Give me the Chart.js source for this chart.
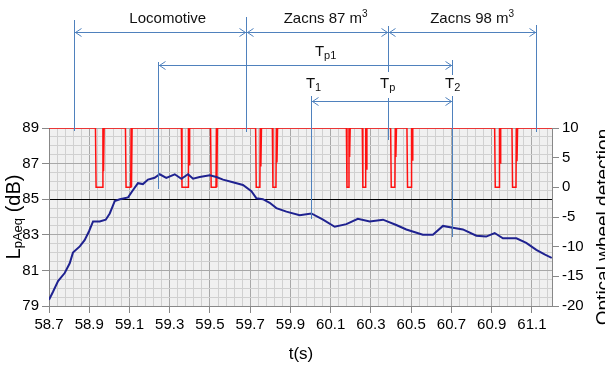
<!DOCTYPE html>
<html>
<head>
<meta charset="utf-8">
<script src="https://cdn.jsdelivr.net/npm/chart.js@4"></script>
<style>
html, body { margin: 0; padding: 0; background: #fff; }
</style>
</head>
<body>
<canvas id="chart1" width="605" height="365"></canvas>
<script>
const FONT = '"Liberation Sans Narrow", "Arial Narrow", "Liberation Sans", sans-serif';

const X_TICKS = [58.7, 58.9, 59.1, 59.3, 59.5, 59.7, 59.9, 60.1, 60.3, 60.5, 60.7, 60.9, 61.1];
const Y_TICKS = [79, 81, 83, 85, 87, 89];
const Y1_TICKS = [-20, -15, -10, -5, 0, 5, 10];

// LpAeq (dB)
const LEQ_T = [58.700, 58.720, 58.745, 58.778, 58.803, 58.819, 58.853, 58.877, 58.899, 58.919,
               58.952, 58.982, 59.002, 59.027, 59.052, 59.093, 59.117, 59.142, 59.167, 59.192,
               59.225, 59.250, 59.283, 59.325, 59.358, 59.391, 59.416, 59.449, 59.499, 59.532,
               59.565, 59.614, 59.664, 59.706, 59.731, 59.763, 59.797, 59.830, 59.880, 59.946,
               60.004, 60.062, 60.120, 60.178, 60.235, 60.294, 60.360, 60.426, 60.476, 60.558,
               60.608, 60.658, 60.707, 60.757, 60.824, 60.873, 60.915, 60.956, 61.023, 61.072,
               61.122, 61.163, 61.199];
const LEQ_DB = [79.35, 79.8, 80.4, 80.85, 81.4, 82.0, 82.35, 82.7, 83.2, 83.75,
                83.75, 83.85, 84.2, 84.9, 85.0, 85.1, 85.5, 85.9, 85.85, 86.1,
                86.2, 86.4, 86.2, 86.4, 86.15, 86.4, 86.15, 86.25, 86.35, 86.25,
                86.1, 85.95, 85.8, 85.45, 85.05, 85.0, 84.8, 84.5, 84.3, 84.1,
                84.2, 83.85, 83.45, 83.6, 83.9, 83.75, 83.85, 83.55, 83.3, 83.0,
                83.0, 83.5, 83.4, 83.3, 82.95, 82.9, 83.1, 82.8, 82.8, 82.55,
                82.15, 81.9, 81.7];

// optical wheel detection signal (right axis)
const WHEEL_T = [58.700,
  58.931, 58.934, 58.966, 58.968, 58.971, 58.974,
  59.080, 59.083, 59.106, 59.108, 59.110, 59.113,
  59.358, 59.361, 59.391, 59.393, 59.396, 59.399,
  59.503, 59.506, 59.530, 59.532, 59.534, 59.537,
  59.727, 59.730, 59.748, 59.750, 59.753, 59.756,
  59.810, 59.813, 59.828, 59.830, 59.833, 59.836,
  60.178, 60.181, 60.189, 60.191, 60.194, 60.197,
  60.257, 60.260, 60.272, 60.274, 60.277, 60.280,
  60.398, 60.401, 60.419, 60.421, 60.424, 60.427,
  60.479, 60.482, 60.500, 60.502, 60.505, 60.508,
  60.915, 60.918, 60.937, 60.939, 60.942, 60.945,
  61.001, 61.004, 61.021, 61.023, 61.026, 61.029,
  61.200];
const WHEEL_V = [10,
  10, 0, 0, 10, 2.7, 10,
  10, 0, 0, 10, 0, 10,
  10, 0, 0, 10, 3.8, 10,
  10, 0, 0, 10, 0, 10,
  10, 0, 0, 10, 3.5, 10,
  10, 0, 0, 10, 4.2, 10,
  10, 0, 0, 10, 5.1, 10,
  10, 0, 0, 10, 3.1, 10,
  10, 0, 0, 10, 5.1, 10,
  10, 0, 0, 10, 4.6, 10,
  10, 0, 0, 10, 4.1, 10,
  10, 0, 0, 10, 4.4, 10,
  10];

// event times (s) for the annotation lines above the plot
const MARKS = { locoStart: 58.825, tp1Start: 59.243, locoEnd: 59.679, t1: 60.004, tp: 60.383, t2: 60.702, end: 61.121 };

// minor grid positions
const X_GRID = [];
for (let k = 0; k <= 62; k++) X_GRID.push(Math.round((58.7 + k * 0.04) * 100) / 100);
const Y_GRID = [];
for (let k = 0; k <= 20; k++) Y_GRID.push(79 + k * 0.5);

const isMajorX = v => X_TICKS.some(t => Math.abs(t - v) < 1e-6);
const isMajorY = v => Y_TICKS.includes(v);

const BLUE = '#4f81bd';

function rich(ctx, parts, x, y) {
  let w = 0;
  parts.forEach(p => { ctx.font = p[1] + 'px ' + FONT; w += ctx.measureText(p[0]).width; });
  let cx = x - w / 2;
  ctx.textAlign = 'left';
  ctx.textBaseline = 'middle';
  parts.forEach(p => {
    ctx.font = p[1] + 'px ' + FONT;
    ctx.fillText(p[0], cx, y + (p[2] || 0));
    cx += ctx.measureText(p[0]).width;
  });
}

function arrow(ctx, x1, x2, y) {
  ctx.beginPath();
  ctx.moveTo(x1, y); ctx.lineTo(x2, y);
  ctx.moveTo(x1 + 7, y - 4); ctx.lineTo(x1 + 1, y); ctx.lineTo(x1 + 7, y + 4);
  ctx.moveTo(x2 - 7, y - 4); ctx.lineTo(x2 - 1, y); ctx.lineTo(x2 - 7, y + 4);
  ctx.stroke();
}

const plotBg = {
  id: 'plotBg',
  beforeDraw(chart) {
    const a = chart.chartArea, c = chart.ctx;
    c.save();
    c.fillStyle = '#f0f0f0';
    c.fillRect(a.left, a.top, a.right - a.left, a.bottom - a.top);
    c.restore();
  }
};

const annot = {
  id: 'annot',
  afterDraw(chart) {
    const c = chart.ctx, xs = chart.scales.x;
    const px = k => Math.round(xs.getPixelForValue(MARKS[k])) + 0.5;
    c.save();
    c.strokeStyle = BLUE;
    c.lineWidth = 1;
    const vlines = [
      ['locoStart', 20, 131], ['tp1Start', 62, 189], ['locoEnd', 17, 132],
      ['t1', 96, 219], ['tp', 26, 72], ['tp', 98, 140],
      ['t2', 60, 75], ['t2', 96, 237], ['end', 25, 132]
    ];
    vlines.forEach(v => {
      c.beginPath(); c.moveTo(px(v[0]), v[1]); c.lineTo(px(v[0]), v[2]); c.stroke();
    });
    arrow(c, px('locoStart'), px('locoEnd'), 32.5);
    arrow(c, px('locoEnd'), px('tp'), 32.5);
    arrow(c, px('tp'), px('end'), 32.5);
    arrow(c, px('tp1Start'), px('t2'), 65.5);
    arrow(c, px('t1'), px('t2'), 101.5);

    c.fillStyle = '#111';
    const xp = t => xs.getPixelForValue(t);
    rich(c, [['Locomotive', 15]], xp(59.29), 19);
    rich(c, [['Zacns 87 m', 15], ['3', 10, -5]], xp(60.075), 19);
    rich(c, [['Zacns 98 m', 15], ['3', 10, -5]], xp(60.803), 19);
    rich(c, [['T', 15], ['p1', 11, 4]], xp(60.075), 52);
    rich(c, [['T', 15], ['1', 11, 4]], xp(60.015), 84);
    rich(c, [['T', 15], ['p', 11, 4]], xp(60.383), 84);
    rich(c, [['T', 15], ['2', 11, 4]], xp(60.706), 84);

    // axis titles
    c.fillStyle = '#000';
    rich(c, [['t(s)', 17]], 301, 354);
    c.save();
    c.translate(14, 217);
    c.rotate(-Math.PI / 2);
    rich(c, [['L', 20], ['pAeq', 13, 4], [' (dB)', 20]], 0, 0);
    c.restore();
    c.save();
    c.translate(604, 227);
    c.rotate(-Math.PI / 2);
    rich(c, [['Optical wheel detection', 19]], 0, 0);
    c.restore();
    c.restore();
  }
};

const tickFont = { family: FONT, size: 15 };

new Chart(document.getElementById('chart1'), {
  type: 'line',
  data: {
    datasets: [
      {
        label: 'LpAeq',
        data: LEQ_T.map((t, i) => ({ x: t, y: LEQ_DB[i] })),
        yAxisID: 'y',
        borderColor: '#1f2290',
        borderWidth: 2,
        pointRadius: 0,
        tension: 0
      },
      {
        label: 'Optical wheel detection',
        data: WHEEL_T.map((t, i) => ({ x: t, y: WHEEL_V[i] })),
        yAxisID: 'y1',
        borderColor: '#ff1010',
        borderWidth: 1.5,
        pointRadius: 0,
        tension: 0
      }
    ]
  },
  options: {
    responsive: false,
    animation: false,
    events: [],
    layout: { padding: { top: 128, left: 0, right: 0, bottom: 0 } },
    plugins: { legend: { display: false }, tooltip: { enabled: false } },
    scales: {
      x: {
        type: 'linear',
        min: 58.7,
        max: 61.2,
        afterBuildTicks: s => { s.ticks = X_GRID.map(v => ({ value: v })); },
        afterFit: s => { s.height = 59; },
        ticks: {
          autoSkip: false,
          maxRotation: 0,
          padding: 3,
          color: '#000',
          font: tickFont,
          callback: v => isMajorX(v) ? v.toFixed(1) : ''
        },
        grid: {
          color: ctx => isMajorX(ctx.tick.value) ? '#a8a8a8' : '#d0d0d0',
          tickColor: ctx => isMajorX(ctx.tick.value) ? '#888' : 'rgba(0,0,0,0)',
          tickLength: 7,
          lineWidth: 1
        },
        border: { display: true, color: '#888' }
      },
      y: {
        position: 'left',
        min: 79,
        max: 89,
        afterBuildTicks: s => { s.ticks = Y_GRID.map(v => ({ value: v })); },
        afterFit: s => { s.width = 49; },
        ticks: {
          autoSkip: false,
          padding: 3,
          color: '#000',
          font: tickFont,
          callback: v => isMajorY(v) ? String(v) : ''
        },
        grid: {
          color: ctx => ctx.tick.value === 85 ? '#000' : (isMajorY(ctx.tick.value) ? '#a8a8a8' : '#d0d0d0'),
          tickColor: ctx => isMajorY(ctx.tick.value) ? '#888' : 'rgba(0,0,0,0)',
          tickLength: 7,
          lineWidth: 1
        },
        border: { display: true, color: '#888' }
      },
      y1: {
        position: 'right',
        min: -20,
        max: 10,
        afterBuildTicks: s => { s.ticks = Y1_TICKS.map(v => ({ value: v })); },
        afterFit: s => { s.width = 53; },
        ticks: { padding: 3, color: '#000', font: tickFont },
        grid: { drawOnChartArea: false, tickColor: '#888', tickLength: 7 },
        border: { display: true, color: '#888' }
      }
    }
  },
  plugins: [plotBg, annot]
});
</script>
</body>
</html>
